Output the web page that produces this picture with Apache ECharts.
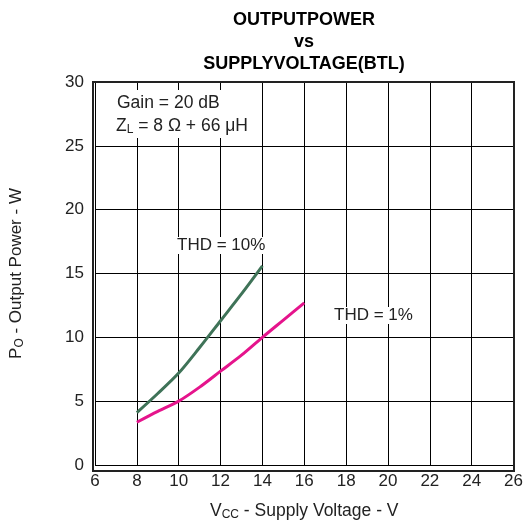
<!DOCTYPE html>
<html><head><meta charset="utf-8">
<script src="https://cdn.jsdelivr.net/npm/echarts@6/dist/echarts.min.js"></script>
<style>html,body{margin:0;padding:0;background:#fff}#c{width:526px;height:526px}</style>
</head><body><div id="c"></div>
<script>
const xTicks = [6, 8, 10, 12, 14, 16, 18, 20, 22, 24, 26];
const yTicks = [0, 5, 10, 15, 20, 25, 30];
const vcc10 = [8, 9, 10, 11, 12, 13, 14];
const po10 = [4.1, 5.6, 7.2, 9.2, 11.3, 13.4, 15.6];
const vcc1 = [8, 9, 10, 11, 12, 13, 14, 15, 16];
const po1 = [3.35, 4.2, 5.0, 6.1, 7.35, 8.6, 10.0, 11.35, 12.7];

const F = 'Liberation Sans, Arial, sans-serif';
const chart = echarts.init(document.getElementById('c'));
const sub = {fontFamily: F, fontSize: 12, color: '#222', verticalAlign: 'bottom', padding: [7,0,0,0]};
chart.setOption({
  animation: false,
  title: {
    text: 'OUTPUTPOWER\nvs\nSUPPLYVOLTAGE(BTL)',
    left: 299, top: 4, textAlign: 'center',
    textStyle: {fontFamily: F, fontSize: 18, fontWeight: 'bold', color: '#000', lineHeight: 22}
  },
  grid: {left: 93, right: 12, top: 82, bottom: 55, show: false},
  xAxis: {
    type: 'value', min: xTicks[0], max: xTicks[xTicks.length-1], interval: 2,
    axisLine: {show: false}, axisTick: {show: false},
    splitLine: {show: true, lineStyle: {color: '#000', width: 1}},
    axisLabel: {fontFamily: F, fontSize: 17, color: '#222', margin: 8},
    name: '{m|V}{s|CC}{m| - Supply Voltage - V}', nameLocation: 'middle', nameGap: 37,
    nameTextStyle: {rich: {m: {fontFamily: F, fontSize: 17.5, color: '#222'}, s: sub}}
  },
  yAxis: {
    type: 'value', min: yTicks[0], max: yTicks[yTicks.length-1], interval: 5,
    axisLine: {show: false}, axisTick: {show: false},
    splitLine: {show: true, lineStyle: {color: '#000', width: 1}},
    axisLabel: {fontFamily: F, fontSize: 17, color: '#222', margin: 11},
    name: '{m|P}{s|O}{m| - Output Power - W}', nameLocation: 'middle', nameGap: 69, nameRotate: 90,
    nameTextStyle: {rich: {m: {fontFamily: F, fontSize: 17, color: '#222'}, s: sub}}
  },
  graphic: [
    {type: 'rect', shape: {x: 93, y: 82, width: 421, height: 389}, style: {fill: 'none', stroke: '#222', lineWidth: 2}, z: 10},
    {type: 'rect', shape: {x: 110, y: 90, width: 150, height: 48}, style: {fill: '#fff'}, z: 5},
    {type: 'text', x: 117, y: 94, z: 11, style: {text: 'Gain = 20 dB', font: '17.5px ' + F, fill: '#222'}},
    {type: 'text', x: 116, y: 116, z: 11, style: {
      text: '{m|Z}{s|L}{m| = 8 Ω + 66 μH}',
      rich: {m: {fontFamily: F, fontSize: 17.5, fill: '#222'}, s: {fontFamily: F, fontSize: 12, fill: '#222', padding: [8,0,0,0]}}
    }},
    {type: 'text', x: 177, y: 237, z: 11, style: {text: 'THD = 10%', font: '17px ' + F, fill: '#222', backgroundColor: '#fff'}},
    {type: 'text', x: 334, y: 307, z: 11, style: {text: 'THD = 1%', font: '17px ' + F, fill: '#222', backgroundColor: '#fff'}}
  ],
  series: [
    {type: 'line', smooth: 0.3, symbol: 'none', data: vcc10.map((v,i)=>[v, po10[i]]),
     lineStyle: {color: '#3f7358', width: 3}, z: 3},
    {type: 'line', smooth: 0.3, symbol: 'none', data: vcc1.map((v,i)=>[v, po1[i]]),
     lineStyle: {color: '#e5148c', width: 3}, z: 3}
  ]
});
</script></body></html>
